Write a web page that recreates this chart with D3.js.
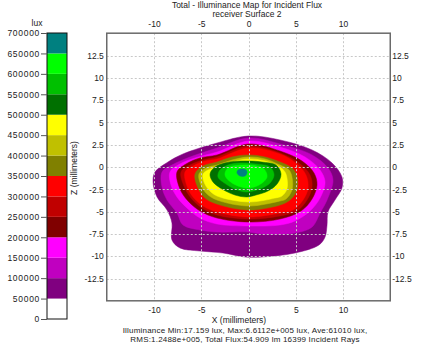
<!DOCTYPE html>
<html>
<head>
<meta charset="utf-8">
<script src="https://cdn.jsdelivr.net/npm/d3@7"></script>
<style>
  body { margin: 0; background: #fff; }
  svg { display: block; }
  text { font-family: "Liberation Sans", Arial, sans-serif; fill: #222; }
</style>
</head>
<body>
<script>
// colour legend levels (lux) and fills
var barLevels = [0, 50000, 100000, 150000, 200000, 250000, 300000, 350000, 400000, 450000, 500000, 550000, 600000, 650000];
var barColors = ["#ffffff", "#800080", "#c000c0", "#ff00ff", "#800000", "#c00000", "#ff0000",
                 "#808000", "#c0c000", "#ffff00", "#007000", "#00c000", "#00ff00", "#008080"];
var cbTicks = [0, 50000, 100000, 150000, 200000, 250000, 300000, 350000, 400000, 450000, 500000, 550000, 600000, 650000, 700000];

var xTicks = [-10, -5, 0, 5, 10];
var yTicks = [-12.5, -10, -7.5, -5, -2.5, 0, 2.5, 5, 7.5, 10, 12.5];

// contour outlines in mm, one per level (value >= level inside)
var c50k = [[0,3.48],[3.33,3.03],[6.72,1.91],[8.84,0.45],[9.89,-1.12],[9.89,-2.35],[9.15,-3.70],[8.41,-5.04],[8.31,-6.50],[8.10,-7.85],[7.46,-8.74],[4.92,-9.64],[1.43,-10.09],[-0.37,-10.09],[-2.70,-9.64],[-5.13,-9.42],[-7.25,-9.08],[-8.10,-8.18],[-8.10,-6.28],[-8.62,-4.82],[-9.68,-3.36],[-10.1,-1.68],[-9.89,-0.56],[-8.52,0.56],[-6.93,1.46],[-3.33,2.69]];
var c100k = [[0,3.25],[3.33,2.58],[6.72,1.35],[8.41,-0.11],[8.94,-1.46],[8.31,-3.70],[7.57,-5.16],[6.72,-6.73],[4.92,-7.40],[1.43,-7.51],[0,-7.29],[-3.33,-7.29],[-5.13,-7.06],[-6.93,-6.50],[-7.57,-5.16],[-8.62,-3.70],[-9.15,-2.24],[-9.15,-0.56],[-8.10,0.22],[-6.19,1.12],[-3.33,2.13]];
var c150k = [[0,2.91],[3.33,2.24],[5.98,1.12],[7.57,-0.34],[8.10,-1.68],[7.57,-3.48],[6.51,-4.93],[4.92,-6.05],[3.33,-6.50],[0,-6.61],[-3.33,-6.39],[-5.13,-5.72],[-6.51,-4.60],[-7.57,-3.36],[-8.20,-2.02],[-8.31,-0.56],[-7.25,0.34],[-5.66,1.01],[-3.33,1.68]];
var c200k = [[0,2.58],[3.33,1.79],[5.66,0.67],[6.93,-0.67],[7.25,-2.02],[6.72,-3.59],[5.56,-4.93],[3.33,-5.83],[0,-6.17],[-3.33,-5.72],[-5.13,-4.93],[-6.40,-3.81],[-7.25,-2.47],[-7.57,-0.56],[-6.61,0.34],[-5.13,1.01],[-3.33,1.35]];
var c250k = [[0,2.35],[3.33,1.57],[5.34,0.45],[6.51,-0.90],[6.72,-2.24],[6.19,-3.70],[5.13,-4.93],[3.33,-5.49],[0,-5.83],[-3.33,-5.38],[-4.92,-4.60],[-6.08,-3.48],[-6.83,-2.13],[-7.14,-0.56],[-6.19,0.22],[-4.81,0.78],[-3.33,1.12]];
var c300k = [[0,2.13],[3.33,1.46],[5.13,0.34],[6.08,-0.90],[6.30,-2.35],[5.77,-3.70],[4.71,-4.82],[3.33,-5.16],[0,-5.61],[-3.33,-5.04],[-4.81,-4.37],[-5.87,-3.36],[-6.51,-2.13],[-6.72,-0.56],[-5.87,0.11],[-4.60,0.67],[-3.33,0.90]];
var c350k = [[0,1.35],[1.75,1.12],[3.33,0.56],[4.60,-0.11],[5.13,-1.01],[5.13,-2.58],[4.39,-3.70],[3.33,-4.26],[0,-4.82],[-3.33,-4.15],[-4.60,-3.48],[-5.34,-2.35],[-5.66,-0.78],[-4.81,0.11],[-3.33,0.56],[-1.75,1.12]];
var c400k = [[0,1.12],[1.75,0.90],[3.33,0.22],[4.29,-0.34],[4.60,-1.12],[4.60,-2.58],[3.97,-3.59],[3.33,-3.81],[0,-4.37],[-3.33,-3.70],[-4.39,-3.03],[-5.03,-2.02],[-5.24,-0.78],[-4.50,-0.11],[-3.33,0.22],[-1.75,0.78]];
var c450k = [[0,0.90],[1.75,0.67],[3.33,0],[3.86,-0.56],[4.07,-1.23],[4.07,-2.47],[3.54,-3.25],[2.80,-3.48],[0,-3.92],[-3.33,-3.25],[-4.18,-2.58],[-4.71,-1.68],[-4.81,-0.78],[-4.28,-0.34],[-3.33,0],[-1.75,0.56]];
var c500k = [[0,0.67],[1.43,0.56],[2.91,0.22],[3.44,-0.78],[3.02,-1.91],[2.06,-2.69],[0.79,-3.14],[-0.16,-3.36],[-1.43,-3.14],[-2.80,-2.47],[-3.76,-1.68],[-4.07,-0.78],[-3.54,0],[-1.96,0.56]];
var c550k = [[-0.90,0.45],[0.79,0.34],[2.28,0],[2.70,-0.90],[2.28,-1.79],[1.43,-2.35],[-0.16,-2.80],[-1.43,-2.47],[-2.38,-1.91],[-3.23,-1.12],[-3.02,-0.34],[-2.17,0.22]];
var c600k = [[-0.58,0.22],[0.90,0.11],[1.64,-0.22],[1.96,-1.12],[1.11,-2.02],[-0.16,-2.35],[-1.75,-1.79],[-2.49,-0.90],[-2.17,-0.11]];
var c650k = [[-0.69,-0.22],[-0.26,-0.34],[-0.16,-0.67],[-0.37,-1.01],[-0.90,-1.01],[-1.22,-0.67],[-1.11,-0.34]];

var contours = [c50k, c100k, c150k, c200k, c250k, c300k, c350k, c400k, c450k, c500k, c550k, c600k, c650k];

var titleLines = ["Total - Illuminance Map for Incident Flux", "receiver Surface 2"];
var statLines = ["Illuminance Min:17.159 lux, Max:6.6112e+005 lux, Ave:61010 lux,",
                 "RMS:1.2488e+005, Total Flux:54.909 lm 16399 Incident Rays"];

var svg = d3.select("body").append("svg")
    .attr("width", 427)
    .attr("height", 344);

var x = d3.scaleLinear().domain([-15, 15]).range([106.75, 390.25]);
var y = d3.scaleLinear().domain([-15, 15]).range([300.8, 33.2]);
var cb = d3.scaleLinear().domain([0, 700000]).range([319, 33]);

var fmt = function (d) { return String(d); };

// contour fills
var line = d3.line()
    .x(function (d) { return x(d[0]); })
    .y(function (d) { return y(d[1]); })
    .curve(d3.curveCatmullRomClosed.alpha(0.5));

svg.append("g").selectAll("path")
    .data(contours)
    .enter().append("path")
    .attr("d", line)
    .attr("fill", function (d, i) { return barColors[i + 1]; })
    .attr("stroke", function (d, i) { return barColors[i + 1]; })
    .attr("stroke-width", 0.5);

// dotted grid on top
var grid = svg.append("g")
    .attr("stroke", "#c8c8c8")
    .attr("stroke-width", 1)
    .attr("stroke-dasharray", "2,2");

grid.selectAll(".gx").data(xTicks).enter().append("line")
    .attr("x1", function (d) { return Math.round(x(d)) + 0.5; })
    .attr("x2", function (d) { return Math.round(x(d)) + 0.5; })
    .attr("y1", y(15)).attr("y2", y(-15));

grid.selectAll(".gy").data(yTicks).enter().append("line")
    .attr("y1", function (d) { return Math.round(y(d)) + 0.5; })
    .attr("y2", function (d) { return Math.round(y(d)) + 0.5; })
    .attr("x1", x(-15)).attr("x2", x(15));

// frame
svg.append("rect")
    .attr("x", x(-15)).attr("y", y(15))
    .attr("width", x(15) - x(-15)).attr("height", y(-15) - y(15))
    .attr("fill", "none")
    .attr("stroke", "#6a6a6a")
    .attr("stroke-width", 1.5);

function styleAxis(g) {
    g.select(".domain").remove();
    g.selectAll("text")
        .style("font-size", "8.5px")
        .style("font-family", "'Liberation Sans', Arial, sans-serif")
        .attr("fill", "#222");
}

svg.append("g").attr("transform", "translate(0," + y(15) + ")")
    .call(d3.axisTop(x).tickValues(xTicks).tickSize(0).tickPadding(6).tickFormat(fmt))
    .call(styleAxis);

svg.append("g").attr("transform", "translate(0," + y(-15) + ")")
    .call(d3.axisBottom(x).tickValues(xTicks).tickSize(0).tickPadding(6).tickFormat(fmt))
    .call(styleAxis);

svg.append("g").attr("transform", "translate(" + (x(-15) - 1) + ",0)")
    .call(d3.axisLeft(y).tickValues(yTicks).tickSize(0).tickPadding(2).tickFormat(fmt))
    .call(styleAxis);

svg.append("g").attr("transform", "translate(" + (x(15) + 0.5) + ",0)")
    .call(d3.axisRight(y).tickValues(yTicks).tickSize(0).tickPadding(1.5).tickFormat(fmt))
    .call(styleAxis);

// colour bar
var bar = svg.append("g");
bar.selectAll("rect")
    .data(barLevels)
    .enter().append("rect")
    .attr("x", 47)
    .attr("width", 20)
    .attr("y", function (d) { return cb(d + 50000); })
    .attr("height", function (d) { return cb(d) - cb(d + 50000); })
    .attr("fill", function (d, i) { return barColors[i]; });

bar.append("rect")
    .attr("x", 47).attr("y", cb(700000))
    .attr("width", 20).attr("height", cb(0) - cb(700000))
    .attr("fill", "none")
    .attr("stroke", "#111")
    .attr("stroke-width", 1);

svg.append("g").attr("transform", "translate(47,0)")
    .call(d3.axisLeft(cb).tickValues(cbTicks).tickSize(6).tickPadding(1).tickFormat(fmt))
    .call(styleAxis)
    .call(function (g) {
        g.selectAll("line").attr("stroke", "#555");
        g.selectAll("text").style("letter-spacing", "0.7px");
    });

svg.append("text")
    .attr("x", 37).attr("y", 26)
    .attr("text-anchor", "middle")
    .style("font-size", "8.5px")
    .text("lux");

// titles and labels
svg.selectAll(".title").data(titleLines).enter().append("text")
    .attr("x", 247)
    .attr("y", function (d, i) { return 8 + i * 8.8; })
    .attr("text-anchor", "middle")
    .style("font-size", "8.5px")
    .text(function (d) { return d; });

svg.append("text")
    .attr("x", 239).attr("y", 322.5)
    .attr("text-anchor", "middle")
    .style("font-size", "8.5px")
    .text("X (millimeters)");

svg.append("text")
    .attr("transform", "translate(77,168) rotate(-90)")
    .attr("text-anchor", "middle")
    .style("font-size", "8.5px")
    .text("Z (millimeters)");

svg.selectAll(".stat").data(statLines).enter().append("text")
    .attr("x", 245)
    .attr("y", function (d, i) { return 333 + i * 9; })
    .attr("text-anchor", "middle")
    .style("font-size", "8px")
    .style("letter-spacing", "0.2px")
    .text(function (d) { return d; });
</script>
</body>
</html>
